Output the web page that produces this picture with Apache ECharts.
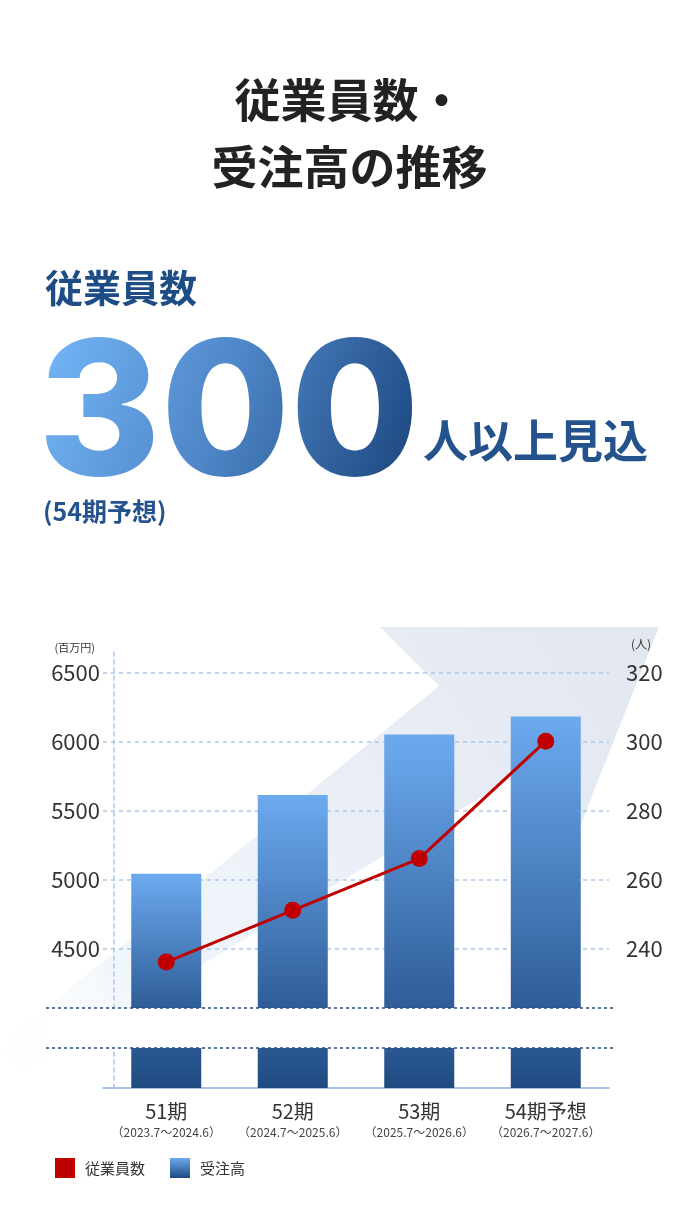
<!DOCTYPE html>
<html><head><meta charset="utf-8">
<script src="https://cdn.jsdelivr.net/npm/echarts@6.0.0/dist/echarts.min.js"></script>
<style>html,body{margin:0;padding:0;background:#fff}#c{width:699px;height:1208px}</style>
</head><body><div id="c"></div>
<script>
const categories = ['51期', '52期', '53期', '54期予想'];
const periods = ['（2023.7〜2024.6）', '（2024.7〜2025.6）', '（2025.7〜2026.6）', '（2026.7〜2027.6）'];
const orders = [5040, 5610, 6050, 6180];
const employees = [236, 251, 266, 300];
const orderTicks = [4500, 5000, 5500, 6000, 6500];
const employeeTicks = [240, 260, 280, 300, 320];
const headlineValue = '300';

const JP = '"Noto Sans CJK JP", "Noto Sans", sans-serif';
const HEAD_FONT = 'Inter, Roboto, sans-serif';

// canvas text only takes flat colours through ECharts, so the headline number gets its diagonal gradient here
(function () {
  const orig = CanvasRenderingContext2D.prototype.fillText;
  CanvasRenderingContext2D.prototype.fillText = function (text, x, y, maxWidth) {
    if (text === headlineValue && typeof this.font === 'string' && this.font.indexOf('Inter') >= 0) {
      const w = this.measureText(text).width;
      const g = this.createLinearGradient(x + 8, y - 70, x + w - 8, y + 70);
      g.addColorStop(0, '#72b4f6');
      g.addColorStop(0.5, '#4c83c4');
      g.addColorStop(1, '#1b467e');
      const prev = this.fillStyle;
      this.fillStyle = g;
      const r = maxWidth === undefined ? orig.call(this, text, x, y) : orig.call(this, text, x, y, maxWidth);
      this.fillStyle = prev;
      return r;
    }
    return maxWidth === undefined ? orig.call(this, text, x, y) : orig.call(this, text, x, y, maxWidth);
  };
})();

const chart = echarts.init(document.getElementById('c'), null, { renderer: 'canvas' });

const barTop = { type: 'linear', x: 0, y: 0, x2: 0, y2: 1, colorStops: [{ offset: 0, color: '#6caaef' }, { offset: 1, color: '#2e5d98' }] };
const barBottom = { type: 'linear', x: 0, y: 0, x2: 0, y2: 1, colorStops: [{ offset: 0, color: '#2a5993' }, { offset: 1, color: '#1e4a80' }] };
const legendBar = { type: 'linear', x: 0, y: 0, x2: 0, y2: 1, colorStops: [{ offset: 0, color: '#6caaef' }, { offset: 1, color: '#1e4a80' }] };
const dashedBlue = { color: '#a9c8ec', width: 1.5, type: [4, 4] };
const navyDash = { stroke: '#2c4a78', lineWidth: 1.5, lineDash: [3, 3] };

const option = {
  animation: false,
  backgroundColor: '#ffffff',
  title: [
    { text: '従業員数・', left: 'center', top: 77, padding: 0, textStyle: { fontSize: 46, fontWeight: 'bold', color: '#222222', fontFamily: JP } },
    { text: '受注高の推移', left: 'center', top: 144, padding: 0, textStyle: { fontSize: 46, fontWeight: 'bold', color: '#222222', fontFamily: JP } },
    { text: '従業員数', left: 45, top: 269, padding: 0, textStyle: { fontSize: 38, fontWeight: 'bold', color: '#1e4d86', fontFamily: JP } },
    { text: headlineValue, left: 38, top: 344, padding: 0, textStyle: { fontSize: 187, lineHeight: 150, fontWeight: 800, fontFamily: HEAD_FONT, color: '#4a80c2' } },
    { text: '人以上見込', left: 423, top: 418, padding: 0, textStyle: { fontSize: 45, fontWeight: 'bold', color: '#24528c', fontFamily: JP } },
    { text: '(54期予想)', left: 43, top: 499, padding: 0, textStyle: { fontSize: 25, fontWeight: 'bold', color: '#24528c', fontFamily: JP } }
  ],
  graphic: [
    { type: 'polygon', z: -10, silent: true,
      shape: { points: [[380, 627], [659, 627], [573, 844], [510, 780], [0, 1086], [0, 1046], [439, 686]] },
      style: { fill: { type: 'linear', x: 1, y: 0, x2: 0, y2: 1, colorStops: [{ offset: 0, color: '#e2e7ef' }, { offset: 0.45, color: '#eaeff7' }, { offset: 0.8, color: 'rgba(238,244,251,0.8)' }, { offset: 1, color: 'rgba(255,255,255,0)' }] } } },
    { type: 'rect', z: -5, silent: true, shape: { x: 46, y: 1008, width: 653, height: 40 }, style: { fill: '#ffffff' } },
    { type: 'line', z: 10, silent: true, shape: { x1: 46, y1: 1008, x2: 615, y2: 1008 }, style: navyDash },
    { type: 'line', z: 10, silent: true, shape: { x1: 46, y1: 1048, x2: 615, y2: 1048 }, style: navyDash }
  ],
  legend: {
    left: 55, top: 1158, itemWidth: 20, itemHeight: 20, itemGap: 25, padding: 0,
    itemStyle: { borderWidth: 0 },
    textStyle: { fontSize: 15, color: '#333333', fontFamily: JP, padding: [0, 0, 0, 5] },
    data: [{ name: '従業員数', icon: 'rect', itemStyle: { color: '#c00000' } }, { name: '受注高', icon: 'rect', itemStyle: { color: legendBar } }]
  },
  grid: [
    { left: 103, right: 90, top: 648, bottom: 200, outerBoundsMode: 'none' },
    { left: 103, right: 90, top: 1048, bottom: 120, outerBoundsMode: 'none' }
  ],
  xAxis: [
    { type: 'category', gridIndex: 0, data: categories, boundaryGap: true,
      axisLine: { show: false }, axisTick: { show: false }, axisLabel: { show: false }, splitLine: { show: false } },
    { type: 'category', gridIndex: 1, data: categories, boundaryGap: true, position: 'bottom',
      axisLine: { show: true, lineStyle: { color: '#a8c5e8', width: 2 } }, axisTick: { show: false }, splitLine: { show: false },
      axisLabel: { show: true, margin: 11, interval: 0,
        formatter: (v, i) => '{a|' + v + '}\n{b|' + periods[i] + '}',
        rich: { a: { fontSize: 20, color: '#333333', lineHeight: 24, fontFamily: JP }, b: { fontSize: 12, color: '#444444', lineHeight: 18, fontFamily: JP } } } }
  ],
  yAxis: [
    { type: 'value', gridIndex: 0, position: 'left', min: 4067, max: 6676, offset: -11,
      name: '(百万円)', nameLocation: 'end', nameGap: 0,
      nameTextStyle: { fontSize: 11, color: '#333333', fontFamily: JP, align: 'right', verticalAlign: 'middle', padding: [0, 19, 0, 0] },
      axisLine: { show: true, lineStyle: dashedBlue },
      axisTick: { show: false, customValues: orderTicks },
      axisLabel: { customValues: orderTicks, formatter: v => String(v), margin: 14, fontSize: 22, color: '#333333', fontFamily: JP },
      splitLine: { show: true, lineStyle: dashedBlue } },
    { type: 'value', gridIndex: 0, position: 'right', min: 222.7, max: 327,
      name: '(人)', nameLocation: 'end', nameGap: 4,
      nameTextStyle: { fontSize: 12, color: '#333333', fontFamily: JP, align: 'left', verticalAlign: 'middle', padding: [0, 0, 0, 22] },
      axisLine: { show: false }, axisTick: { show: false, customValues: employeeTicks },
      axisLabel: { customValues: employeeTicks, formatter: v => String(v), margin: 17, fontSize: 22, color: '#333333', fontFamily: JP },
      splitLine: { show: false } },
    { type: 'value', gridIndex: 1, position: 'left', min: 0, max: 1000, offset: -11,
      axisLine: { show: true, lineStyle: dashedBlue }, axisTick: { show: false }, axisLabel: { show: false }, splitLine: { show: false } }
  ],
  series: [
    { name: '受注高', type: 'bar', xAxisIndex: 0, yAxisIndex: 0, data: orders, barWidth: 70, clip: true, z: 2,
      itemStyle: { color: barTop } },
    { name: '受注高（下部）', type: 'bar', xAxisIndex: 1, yAxisIndex: 2, data: orders, barWidth: 70, clip: true, z: 2,
      itemStyle: { color: barBottom } },
    { name: '従業員数', type: 'line', xAxisIndex: 0, yAxisIndex: 1, data: employees, z: 5,
      symbol: 'circle', symbolSize: 17, color: '#c00000',
      itemStyle: { color: '#c00000', borderWidth: 0 },
      lineStyle: { color: '#c00000', width: 3 } }
  ]
};
chart.setOption(option);
</script></body></html>
